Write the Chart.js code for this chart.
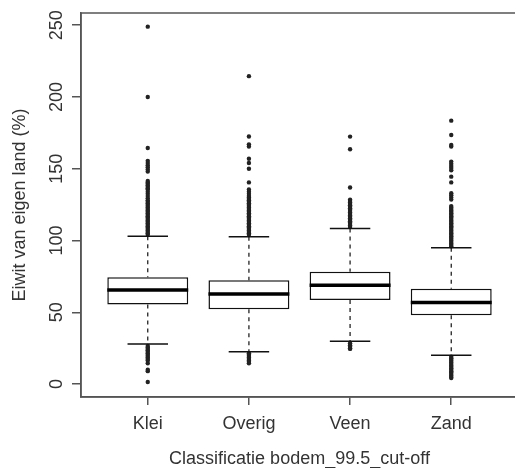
<!DOCTYPE html>
<html>
<head>
<meta charset="utf-8">
<title>Eiwit van eigen land per bodemklasse</title>
<script src="https://cdn.jsdelivr.net/npm/chart.js@4.4.0/dist/chart.umd.min.js"></script>
<style>
  html, body { margin: 0; padding: 0; background: #fff; overflow: hidden; }
  canvas { display: block; }
</style>
</head>
<body>
<canvas id="bodemChart" width="518" height="468"></canvas>
<script>
const categorieen = ['Klei', 'Overig', 'Veen', 'Zand'];
const yTicks = [0, 50, 100, 150, 200, 250];

// boxplot statistieken per bodemklasse
const q1 = [55.5, 52.2, 58.5, 48.0];
const mediaan = [65.5, 62.7, 68.9, 56.9];
const q3 = [74.5, 72.4, 78.2, 66.4];
const snorBoven = [103, 102.6, 108.4, 95];
const snorOnder = [27.9, 22.5, 29.9, 20.0];

// uitschieters
const uitschietersKlei = [249, 200, 164.5, 155.5, 154, 152.5, 151, 149.5, 148, 141.5, 140.5,
  139.5, 138.5, 137.5, 136.5, 135.5, 134, 132.5, 131, 129.5, 128, 127, 126, 125, 124, 123,
  122, 121, 120, 119, 118, 117, 116, 115, 114, 113, 112, 111, 110, 109, 108, 107, 106, 105, 104,
  26.5, 25.5, 24.5, 23.5, 22.5, 21.5, 20.5, 19.5, 18.5, 17.5, 16.5, 14.5, 10, 9, 1.5];
const uitschietersOverig = [214.5, 172.5, 167, 165.5, 157, 154, 150, 140.5, 135.5, 134, 132.5,
  131, 130, 129, 128, 127, 126, 125, 124, 123, 122, 121, 120, 119, 118, 117, 116, 115, 114,
  113, 112, 111, 110, 109, 108, 107, 106, 105, 104,
  21.5, 20.5, 19.5, 18.5, 17.5, 16.5, 15.5, 14.5];
const uitschietersVeen = [172.4, 163.6, 136.9, 128.5, 127.5, 126.5, 125.5, 124.5, 123.5, 122.5,
  121.5, 120.5, 119.5, 118.5, 117.5, 116.5, 115.5, 114.5, 113.5, 112.5, 111.5, 110.5, 109.5,
  28.5, 27, 26, 25, 24.5];
const uitschietersZand = [183.5, 173.5, 166.5, 165.5, 155, 153.5, 152, 150.5, 149, 144.5, 140.5,
  133, 131.5, 130, 128.5, 124, 123, 122, 121, 120, 119, 118, 117, 116, 115, 114, 113, 112, 111,
  110, 109, 108, 107, 106, 105, 104, 103, 102, 101, 100, 99, 98, 97, 96,
  19, 18, 17, 16, 15, 14, 13, 12, 11, 10, 9, 8, 7, 6, 5, 4.2];
const uitschieters = [uitschietersKlei, uitschietersOverig, uitschietersVeen, uitschietersZand];

const lettertype = "'Liberation Sans', Arial, sans-serif";
const asKleur = '#555';
const tekstKleur = '#333';
const halveBox = 0.4;
const halveStaple = 0.2;

const boxData = categorieen.map((c, i) => ({ x: i + 1, y: [q1[i], q3[i]] }));
const snorData = [];
const stapleData = [];
const mediaanData = [];
categorieen.forEach((c, i) => {
  const x = i + 1;
  snorData.push({ x, y: snorBoven[i] }, { x, y: q3[i] }, { x, y: null },
                { x, y: q1[i] }, { x, y: snorOnder[i] }, { x, y: null });
  stapleData.push({ x: x - halveStaple, y: snorBoven[i] }, { x: x + halveStaple, y: snorBoven[i] }, { x, y: null },
                  { x: x - halveStaple, y: snorOnder[i] }, { x: x + halveStaple, y: snorOnder[i] }, { x, y: null });
  mediaanData.push({ x: x - halveBox, y: mediaan[i] }, { x: x + halveBox, y: mediaan[i] }, { x, y: null });
});
const puntData = [];
uitschieters.forEach((lijst, i) => lijst.forEach(v => puntData.push({ x: i + 1, y: v })));

// kader rond het plotgebied
const kader = {
  id: 'kader',
  afterDraw(chart) {
    const { ctx, chartArea: a } = chart;
    ctx.save();
    ctx.strokeStyle = asKleur;
    ctx.lineWidth = 1.5;
    ctx.strokeRect(a.left, a.top, a.right - a.left, a.bottom - a.top);
    ctx.restore();
  }
};

new Chart(document.getElementById('bodemChart'), {
  type: 'bar',
  data: {
    datasets: [
      {
        type: 'scatter',
        data: puntData,
        pointRadius: 2.2,
        pointBackgroundColor: '#222',
        pointBorderWidth: 0,
        order: 4
      },
      {
        type: 'line',
        data: snorData,
        borderColor: '#111',
        borderWidth: 1.2,
        borderDash: [4, 4],
        pointRadius: 0,
        spanGaps: false,
        order: 3
      },
      {
        type: 'line',
        data: stapleData,
        borderColor: '#111',
        borderWidth: 1.5,
        pointRadius: 0,
        spanGaps: false,
        order: 3
      },
      {
        type: 'bar',
        data: boxData,
        backgroundColor: '#fff',
        borderColor: '#111',
        borderWidth: 1.5,
        borderSkipped: false,
        barPercentage: 0.8,
        categoryPercentage: 1,
        order: 2
      },
      {
        type: 'line',
        data: mediaanData,
        borderColor: '#000',
        borderWidth: 3.5,
        pointRadius: 0,
        spanGaps: false,
        order: 1
      }
    ]
  },
  options: {
    responsive: false,
    animation: false,
    layout: { autoPadding: false, padding: { top: 13, right: 0, bottom: 0, left: 0 } },
    plugins: { legend: { display: false }, tooltip: { enabled: false } },
    scales: {
      x: {
        type: 'linear',
        min: 0.34,
        max: 4.66,
        offset: false,
        afterFit(scale) {
          scale.height = 71;
          scale.paddingLeft = 0;
          scale.paddingRight = 0;
        },
        afterBuildTicks(scale) { scale.ticks = categorieen.map((c, i) => ({ value: i + 1 })); },
        grid: { offset: false, drawOnChartArea: false, drawTicks: true, tickLength: 8, color: asKleur, lineWidth: 1.5 },
        border: { display: true, color: asKleur, width: 1.5 },
        ticks: {
          padding: 8,
          color: tekstKleur,
          font: { family: lettertype, size: 18 },
          maxRotation: 0,
          callback: v => categorieen[v - 1]
        },
        title: {
          display: true,
          text: 'Classificatie bodem_99.5_cut-off',
          color: tekstKleur,
          font: { family: lettertype, size: 18, lineHeight: 1 },
          padding: { top: 0, bottom: 0 }
        }
      },
      y: {
        min: -9,
        max: 258.5,
        afterFit(scale) { scale.width = 81; },
        afterBuildTicks(scale) { scale.ticks = yTicks.map(v => ({ value: v })); },
        grid: { drawOnChartArea: false, drawTicks: true, tickLength: 9, color: asKleur, lineWidth: 1.5 },
        border: { display: true, color: asKleur, width: 1.5 },
        ticks: {
          padding: 0,
          color: tekstKleur,
          crossAlign: 'center',
          minRotation: 90,
          maxRotation: 90,
          font: { family: lettertype, size: 18 }
        },
        title: {
          display: true,
          text: 'Eiwit van eigen land (%)',
          color: tekstKleur,
          font: { family: lettertype, size: 18 },
          padding: { top: 9, bottom: 0 }
        }
      }
    }
  },
  plugins: [kader]
});
</script>
</body>
</html>
